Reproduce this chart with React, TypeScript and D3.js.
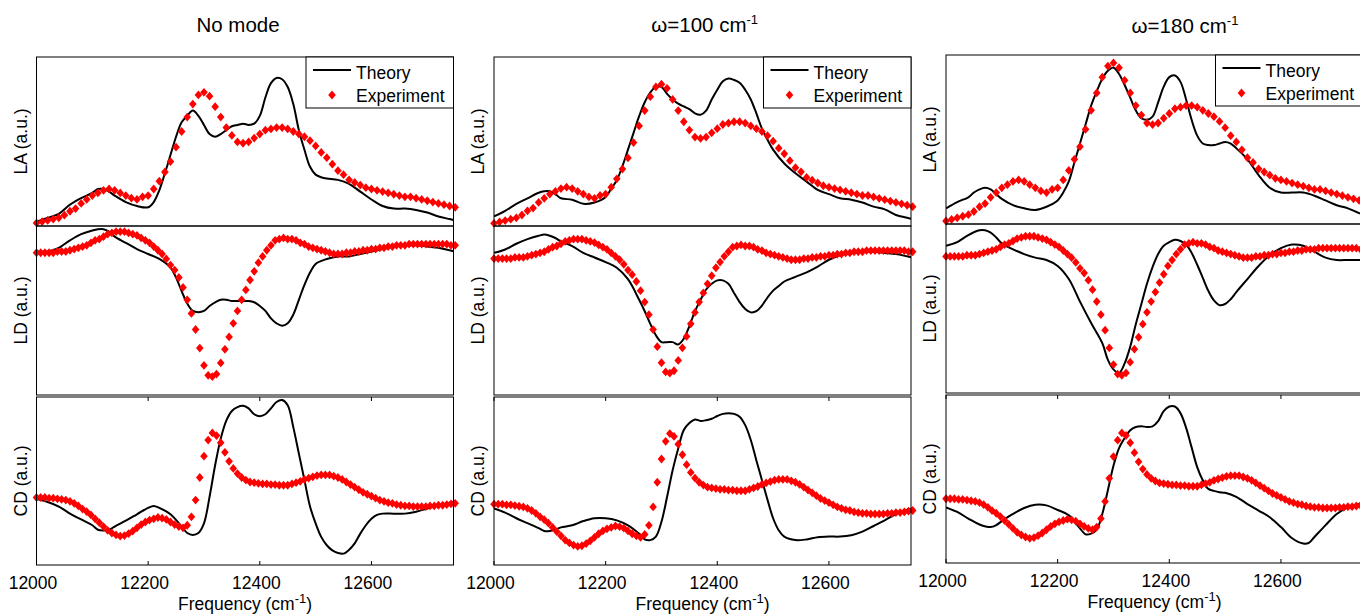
import * as d3 from "d3";

const FONT = '"Liberation Sans", Arial, Helvetica, sans-serif';

// experiment: the same measurement is shown in every column
const laFreq = d3.range(12000, 12751, 10);
const ldcdFreq = d3.range(0, 101).map(k => 12000 + 7.5 * k);

const expLA = [
    0.0, 0.01, 0.02, 0.03, 0.04, 0.06, 0.09, 0.11, 0.15, 0.18,
    0.21, 0.23, 0.25, 0.26, 0.25, 0.23, 0.21, 0.19, 0.18, 0.2,
    0.21, 0.26, 0.32, 0.39, 0.47, 0.58, 0.7, 0.81, 0.91, 0.98,
    1.0, 0.97, 0.89, 0.81, 0.73, 0.67, 0.62, 0.61, 0.62, 0.65,
    0.68, 0.71, 0.72, 0.73, 0.73, 0.72, 0.7, 0.68, 0.66, 0.63,
    0.59, 0.54, 0.5, 0.45, 0.4, 0.37, 0.33, 0.31, 0.29, 0.27,
    0.26, 0.25, 0.24, 0.23, 0.22, 0.21, 0.2, 0.2, 0.19, 0.18,
    0.17, 0.16, 0.15, 0.14, 0.13, 0.12,
];

const expLD = [
    0, 0, 0, 0, 0, 0.01, 0.01, 0.01, 0.02, 0.03,
    0.04, 0.05, 0.06, 0.08, 0.1, 0.11, 0.13, 0.15, 0.16, 0.17,
    0.17, 0.17, 0.16, 0.15, 0.14, 0.12, 0.1, 0.08, 0.05, 0.02,
    -0.01, -0.05, -0.1, -0.14, -0.2, -0.28, -0.38, -0.49, -0.62, -0.77,
    -0.91, -0.99, -1.0, -0.98, -0.89, -0.78, -0.68, -0.57, -0.47, -0.38,
    -0.3, -0.22, -0.15, -0.08, -0.03, 0.02, 0.06, 0.1, 0.11, 0.12,
    0.11, 0.11, 0.1, 0.08, 0.07, 0.05, 0.04, 0.03, 0.02, 0.01,
    0, -0.01, -0.01, -0.01, 0, 0, 0.01, 0.01, 0.02, 0.02,
    0.03, 0.03, 0.04, 0.04, 0.05, 0.05, 0.06, 0.06, 0.06, 0.07,
    0.07, 0.07, 0.07, 0.07, 0.07, 0.07, 0.07, 0.07, 0.07, 0.06, 0.06,
];

const expCD = [
    0, 0, 0, -0.01, -0.01, -0.02, -0.03, -0.04, -0.06, -0.09,
    -0.13, -0.18, -0.22, -0.27, -0.33, -0.39, -0.45, -0.51, -0.55, -0.58,
    -0.6, -0.59, -0.56, -0.52, -0.47, -0.42, -0.38, -0.35, -0.33, -0.31,
    -0.32, -0.34, -0.38, -0.42, -0.45, -0.47, -0.43, -0.3, -0.04, 0.31,
    0.64, 0.89, 1.0, 0.96, 0.85, 0.7, 0.56, 0.45, 0.37, 0.31,
    0.27, 0.24, 0.23, 0.22, 0.21, 0.21, 0.2, 0.2, 0.19, 0.19,
    0.19, 0.21, 0.23, 0.25, 0.28, 0.3, 0.32, 0.34, 0.35, 0.35,
    0.35, 0.33, 0.31, 0.28, 0.24, 0.2, 0.16, 0.12, 0.08, 0.05,
    0.02, -0.01, -0.04, -0.06, -0.08, -0.09, -0.11, -0.12, -0.13, -0.13,
    -0.14, -0.14, -0.14, -0.14, -0.13, -0.13, -0.12, -0.12, -0.11, -0.1, -0.09,
];

// theory: [frequency, value]
const theoryLA_none: [number, number][] = [
    [12000, 0.01], [12020, 0.04], [12040, 0.07], [12060, 0.14], [12080, 0.19], [12100, 0.23], [12110, 0.26],
    [12120, 0.26], [12130, 0.24], [12140, 0.21], [12160, 0.16], [12180, 0.13], [12200, 0.12], [12210, 0.16],
    [12220, 0.25], [12230, 0.38], [12240, 0.52], [12250, 0.66], [12260, 0.77], [12270, 0.82], [12280, 0.86],
    [12290, 0.82], [12300, 0.75], [12310, 0.68], [12320, 0.66], [12330, 0.68], [12340, 0.71], [12350, 0.74],
    [12360, 0.75], [12370, 0.76], [12380, 0.75], [12390, 0.76], [12400, 0.82], [12410, 0.96], [12420, 1.07],
    [12430, 1.11], [12440, 1.1], [12450, 1.04], [12460, 0.91], [12470, 0.71], [12480, 0.56], [12490, 0.43],
    [12500, 0.37], [12510, 0.35], [12520, 0.34], [12540, 0.33], [12560, 0.3], [12580, 0.24], [12600, 0.18],
    [12620, 0.13], [12640, 0.11], [12660, 0.11], [12680, 0.1], [12700, 0.08], [12720, 0.05], [12740, 0.03],
    [12750, 0.02],
];
const theoryLA_100: [number, number][] = [
    [12000, 0.05], [12020, 0.09], [12040, 0.14], [12060, 0.18], [12080, 0.22], [12090, 0.23], [12100, 0.23],
    [12110, 0.21], [12120, 0.18], [12140, 0.17], [12160, 0.14], [12180, 0.15], [12200, 0.19], [12210, 0.25],
    [12220, 0.31], [12230, 0.41], [12240, 0.53], [12250, 0.65], [12260, 0.77], [12270, 0.87], [12280, 0.94],
    [12290, 0.98], [12300, 0.98], [12310, 0.93], [12320, 0.89], [12330, 0.86], [12340, 0.84], [12350, 0.82],
    [12360, 0.79], [12370, 0.78], [12380, 0.81], [12390, 0.89], [12400, 0.96], [12410, 1.02], [12420, 1.04],
    [12430, 1.03], [12440, 1.01], [12450, 0.96], [12460, 0.89], [12470, 0.79], [12480, 0.68], [12490, 0.6],
    [12500, 0.53], [12520, 0.43], [12540, 0.36], [12560, 0.3], [12580, 0.24], [12600, 0.21], [12620, 0.18],
    [12640, 0.17], [12660, 0.15], [12680, 0.12], [12700, 0.1], [12720, 0.06], [12740, 0.04], [12750, 0.03],
];
const theoryLA_180: [number, number][] = [
    [12000, 0.08], [12020, 0.12], [12040, 0.15], [12050, 0.18], [12060, 0.2], [12070, 0.21], [12080, 0.2],
    [12090, 0.17], [12100, 0.14], [12120, 0.1], [12140, 0.08], [12160, 0.07], [12180, 0.09], [12200, 0.13],
    [12210, 0.18], [12220, 0.25], [12230, 0.37], [12240, 0.49], [12250, 0.61], [12260, 0.73], [12270, 0.82],
    [12280, 0.9], [12290, 0.95], [12300, 0.97], [12310, 0.93], [12320, 0.86], [12330, 0.78], [12340, 0.7],
    [12350, 0.65], [12360, 0.64], [12370, 0.66], [12380, 0.75], [12390, 0.85], [12400, 0.91], [12410, 0.92],
    [12420, 0.88], [12430, 0.77], [12440, 0.64], [12450, 0.54], [12460, 0.49], [12470, 0.48], [12480, 0.48],
    [12490, 0.49], [12500, 0.5], [12510, 0.49], [12520, 0.46], [12540, 0.39], [12560, 0.29], [12580, 0.21],
    [12600, 0.18], [12620, 0.18], [12640, 0.18], [12660, 0.16], [12680, 0.13], [12700, 0.1], [12720, 0.08],
    [12740, 0.05], [12750, 0.04],
];

const theoryLD_none: [number, number][] = [
    [12000, 0.01], [12020, 0.01], [12040, 0.04], [12060, 0.1], [12080, 0.15], [12100, 0.18], [12110, 0.19],
    [12120, 0.19], [12130, 0.17], [12140, 0.13], [12160, 0.08], [12180, 0.03], [12200, -0.01], [12220, -0.05],
    [12240, -0.12], [12250, -0.2], [12260, -0.31], [12270, -0.41], [12280, -0.47], [12290, -0.48], [12300, -0.47],
    [12310, -0.43], [12320, -0.4], [12330, -0.38], [12340, -0.38], [12350, -0.39], [12360, -0.39], [12370, -0.39],
    [12380, -0.39], [12390, -0.4], [12400, -0.43], [12410, -0.47], [12420, -0.53], [12430, -0.57], [12440, -0.59],
    [12450, -0.57], [12460, -0.5], [12470, -0.38], [12480, -0.26], [12490, -0.16], [12500, -0.09], [12520, -0.05],
    [12540, -0.03], [12560, -0.03], [12580, -0.01], [12600, 0.01], [12620, 0.03], [12640, 0.05], [12660, 0.06],
    [12680, 0.06], [12700, 0.05], [12720, 0.04], [12740, 0.02], [12750, 0.01],
];
const theoryLD_100: [number, number][] = [
    [12000, 0.05], [12020, 0.08], [12040, 0.13], [12060, 0.17], [12080, 0.2], [12090, 0.21], [12100, 0.2],
    [12110, 0.18], [12120, 0.15], [12140, 0.11], [12160, 0.05], [12180, 0.01], [12200, -0.03], [12220, -0.08],
    [12240, -0.18], [12260, -0.36], [12270, -0.46], [12280, -0.57], [12290, -0.67], [12300, -0.73], [12310, -0.73],
    [12320, -0.73], [12330, -0.75], [12340, -0.7], [12350, -0.59], [12360, -0.46], [12370, -0.36], [12380, -0.27],
    [12390, -0.22], [12400, -0.19], [12410, -0.19], [12420, -0.22], [12430, -0.3], [12440, -0.38], [12450, -0.44],
    [12460, -0.47], [12470, -0.46], [12480, -0.41], [12490, -0.34], [12500, -0.28], [12510, -0.24], [12520, -0.2],
    [12540, -0.16], [12560, -0.12], [12580, -0.07], [12600, -0.01], [12620, 0.03], [12640, 0.05], [12660, 0.06],
    [12680, 0.06], [12700, 0.05], [12720, 0.04], [12740, 0.02], [12750, 0.01],
];
const theoryLD_180: [number, number][] = [
    [12000, 0.09], [12020, 0.12], [12040, 0.18], [12060, 0.22], [12070, 0.22], [12080, 0.2], [12090, 0.16],
    [12100, 0.11], [12120, 0.06], [12140, 0.02], [12160, -0.01], [12180, -0.03], [12200, -0.08], [12220, -0.19],
    [12240, -0.38], [12260, -0.56], [12280, -0.73], [12290, -0.87], [12300, -0.95], [12310, -0.98], [12320, -0.9],
    [12330, -0.76], [12340, -0.57], [12350, -0.4], [12360, -0.23], [12370, -0.09], [12380, 0.02], [12390, 0.09],
    [12400, 0.12], [12410, 0.14], [12420, 0.13], [12430, 0.1], [12440, 0.03], [12450, -0.07], [12460, -0.18],
    [12470, -0.29], [12480, -0.37], [12490, -0.41], [12500, -0.4], [12510, -0.36], [12520, -0.3], [12540, -0.19],
    [12560, -0.08], [12580, 0.01], [12600, 0.07], [12620, 0.1], [12640, 0.09], [12660, 0.04], [12680, -0.01],
    [12700, -0.03], [12720, -0.03], [12740, -0.03], [12750, -0.03],
];

const theoryCD_none: [number, number][] = [
    [12000, -0.02], [12020, -0.07], [12040, -0.14], [12060, -0.25], [12080, -0.34], [12100, -0.43], [12110, -0.5],
    [12120, -0.51], [12130, -0.5], [12140, -0.45], [12160, -0.36], [12180, -0.26], [12200, -0.16], [12210, -0.13],
    [12220, -0.16], [12240, -0.26], [12260, -0.45], [12270, -0.55], [12280, -0.58], [12290, -0.55], [12300, -0.4],
    [12310, 0.01], [12320, 0.5], [12330, 0.91], [12340, 1.19], [12350, 1.34], [12360, 1.4], [12370, 1.42],
    [12380, 1.38], [12390, 1.29], [12400, 1.26], [12410, 1.29], [12420, 1.38], [12430, 1.48], [12440, 1.51],
    [12450, 1.43], [12460, 1.09], [12470, 0.68], [12480, 0.27], [12490, -0.14], [12500, -0.4], [12510, -0.61],
    [12520, -0.74], [12530, -0.82], [12540, -0.86], [12550, -0.87], [12560, -0.81], [12570, -0.71], [12580, -0.56],
    [12590, -0.43], [12600, -0.33], [12610, -0.27], [12620, -0.25], [12640, -0.25], [12660, -0.25], [12680, -0.22],
    [12700, -0.17], [12720, -0.12], [12740, -0.08], [12750, -0.07],
];
const theoryCD_100: [number, number][] = [
    [12000, -0.06], [12020, -0.12], [12040, -0.2], [12060, -0.27], [12080, -0.34], [12090, -0.38], [12100, -0.38],
    [12110, -0.36], [12120, -0.33], [12140, -0.3], [12160, -0.24], [12180, -0.2], [12200, -0.2], [12220, -0.23],
    [12240, -0.3], [12260, -0.42], [12270, -0.5], [12280, -0.51], [12290, -0.46], [12300, -0.25], [12310, 0.1],
    [12320, 0.48], [12330, 0.79], [12340, 1.05], [12350, 1.15], [12360, 1.2], [12370, 1.18], [12380, 1.19],
    [12390, 1.21], [12400, 1.25], [12410, 1.28], [12420, 1.29], [12430, 1.28], [12440, 1.24], [12450, 1.12],
    [12460, 0.91], [12470, 0.62], [12480, 0.34], [12490, 0.06], [12500, -0.2], [12510, -0.37], [12520, -0.46],
    [12540, -0.51], [12560, -0.5], [12580, -0.47], [12600, -0.46], [12620, -0.46], [12640, -0.44], [12660, -0.39],
    [12680, -0.31], [12700, -0.23], [12720, -0.14], [12740, -0.08], [12750, -0.06],
];
const theoryCD_180: [number, number][] = [
    [12000, -0.13], [12020, -0.2], [12040, -0.3], [12060, -0.39], [12080, -0.43], [12090, -0.4], [12100, -0.34],
    [12120, -0.23], [12140, -0.14], [12160, -0.09], [12180, -0.1], [12200, -0.17], [12220, -0.25], [12240, -0.45],
    [12250, -0.54], [12260, -0.53], [12270, -0.47], [12280, -0.23], [12290, 0.13], [12300, 0.5], [12310, 0.77],
    [12320, 0.92], [12330, 1.04], [12340, 1.09], [12350, 1.1], [12360, 1.09], [12370, 1.1], [12380, 1.18],
    [12390, 1.33], [12400, 1.4], [12410, 1.4], [12420, 1.3], [12430, 1.08], [12440, 0.78], [12450, 0.48],
    [12460, 0.28], [12470, 0.15], [12480, 0.12], [12490, 0.1], [12500, 0.09], [12520, 0.03], [12540, -0.08],
    [12560, -0.18], [12580, -0.28], [12600, -0.43], [12620, -0.6], [12640, -0.68], [12650, -0.67], [12660, -0.58],
    [12680, -0.4], [12700, -0.23], [12720, -0.13], [12740, -0.08], [12750, -0.07],
];

const tickValues = [12000, 12200, 12400, 12600];
const xDomain: [number, number] = [12000, 12747];

type Column = {
    title: string;
    sup: string;
    x0: number;
    top: number;
    titleX: number;
    titleY: number;
    theory: [number, number][][];
    yDomains: [number, number][];
};

const columns: Column[] = [
    {
        title: "No mode", sup: "", x0: 36.5, top: 57, titleX: 238, titleY: 31.7,
        theory: [theoryLA_none, theoryLD_none, theoryCD_none],
        yDomains: [[-0.023, 1.27], [-1.149, 0.216], [-1.046, 1.557]],
    },
    {
        title: "ω=100 cm", sup: "-1", x0: 494, top: 57, titleX: 704.7, titleY: 31.7,
        theory: [theoryLA_100, theoryLD_100, theoryCD_100],
        yDomains: [[-0.019, 1.195], [-1.192, 0.285], [-0.863, 1.519]],
    },
    {
        title: "ω=180 cm", sup: "-1", x0: 946, top: 55, titleX: 1185, titleY: 32.5,
        theory: [theoryLA_180, theoryLD_180, theoryCD_180],
        yDomains: [[-0.019, 1.05], [-1.149, 0.273], [-0.975, 1.575]],
    },
];

const rows = [
    { label: "LA (a.u.)", freq: laFreq, exp: expLA, y0: 0, y1: 169 },
    { label: "LD (a.u.)", freq: ldcdFreq, exp: expLD, y0: 169, y1: 338 },
    { label: "CD (a.u.)", freq: ldcdFreq, exp: expCD, y0: 340, y1: 508 },
];

const PANEL_W = 417;
const FS = 17.5;
const DIAMOND = "M0,-4.4L3.8,0L0,4.4L-3.8,0Z";
const RED = "#ff0000";

function ColumnView({ col, ci }: { col: Column; ci: number }) {
    const x = d3.scaleLinear().domain(xDomain).range([col.x0, col.x0 + PANEL_W]);
    const x1 = col.x0 + PANEL_W;

    return (
        <g>
            <text x={col.titleX} y={col.titleY} textAnchor="middle" fontSize={20.5}>
                {col.title}
                {col.sup && (
                    <tspan fontSize={13} dy={-7.5}>
                        {col.sup}
                    </tspan>
                )}
            </text>
            {rows.map((r, ri) => {
                const top = col.top + r.y0;
                const bottom = col.top + r.y1;
                const y = d3.scaleLinear().domain(col.yDomains[ri]).range([bottom, top]);
                const line = d3
                    .line<[number, number]>()
                    .x(d => x(d[0]))
                    .y(d => y(d[1]))
                    .curve(d3.curveCatmullRom.alpha(0.5));
                const clipId = `clip-${ci}-${ri}`;
                return (
                    <g key={ri}>
                        <clipPath id={clipId}>
                            <rect x={col.x0} y={top} width={PANEL_W} height={bottom - top} />
                        </clipPath>
                        <path
                            d={line(col.theory[ri]) || ""}
                            fill="none"
                            stroke="#000"
                            strokeWidth={2}
                            strokeLinejoin="round"
                            clipPath={`url(#${clipId})`}
                        />
                        {r.freq.map((f, i) => (
                            <path key={i} d={DIAMOND} fill={RED} transform={`translate(${x(f)},${y(r.exp[i])})`} />
                        ))}
                        <rect x={col.x0} y={top} width={PANEL_W} height={bottom - top} fill="none" stroke="#000" strokeWidth={1} />
                        <text
                            transform={`translate(${col.x0 - 10},${(top + bottom) / 2}) rotate(-90)`}
                            textAnchor="middle"
                            fontSize={FS}
                        >
                            {r.label}
                        </text>
                        {ri === 0 && (
                            <g transform={`translate(${x1 - 147.5},${top})`}>
                                <rect x={0} y={0} width={147.5} height={51} fill="#fff" stroke="#000" strokeWidth={1} />
                                <line x1={7} x2={45} y1={13} y2={13} stroke="#000" strokeWidth={2} />
                                <text x={50} y={21.5} fontSize={FS}>Theory</text>
                                <path d={DIAMOND} fill={RED} transform="translate(26,38)" />
                                <text x={50} y={45} fontSize={FS}>Experiment</text>
                            </g>
                        )}
                        {ri === 2 && (
                            <g>
                                {tickValues.map(t => (
                                    <g key={t}>
                                        <line x1={x(t)} x2={x(t)} y1={bottom} y2={bottom - 4} stroke="#000" />
                                        <line x1={x(t)} x2={x(t)} y1={top} y2={top + 4} stroke="#000" />
                                        <text x={x(t) - 3.5} y={bottom + 23.5} textAnchor="middle" fontSize={FS}>
                                            {t}
                                        </text>
                                    </g>
                                ))}
                                <text x={(col.x0 + x1) / 2} y={bottom + 44.5} textAnchor="middle" fontSize={FS}>
                                    Frequency (cm
                                    <tspan fontSize={13} dy={-7}>-1</tspan>
                                    <tspan dy={7}>)</tspan>
                                </text>
                            </g>
                        )}
                    </g>
                );
            })}
        </g>
    );
}

export default function App() {
    return (
        <svg
            width={1360}
            height={616}
            fontFamily={FONT}
            style={{ position: "absolute", left: 0, top: 0, display: "block", background: "#fff" }}
        >
            <rect width={1360} height={616} fill="#fff" />
            {columns.map((col, ci) => (
                <ColumnView key={ci} col={col} ci={ci} />
            ))}
        </svg>
    );
}
